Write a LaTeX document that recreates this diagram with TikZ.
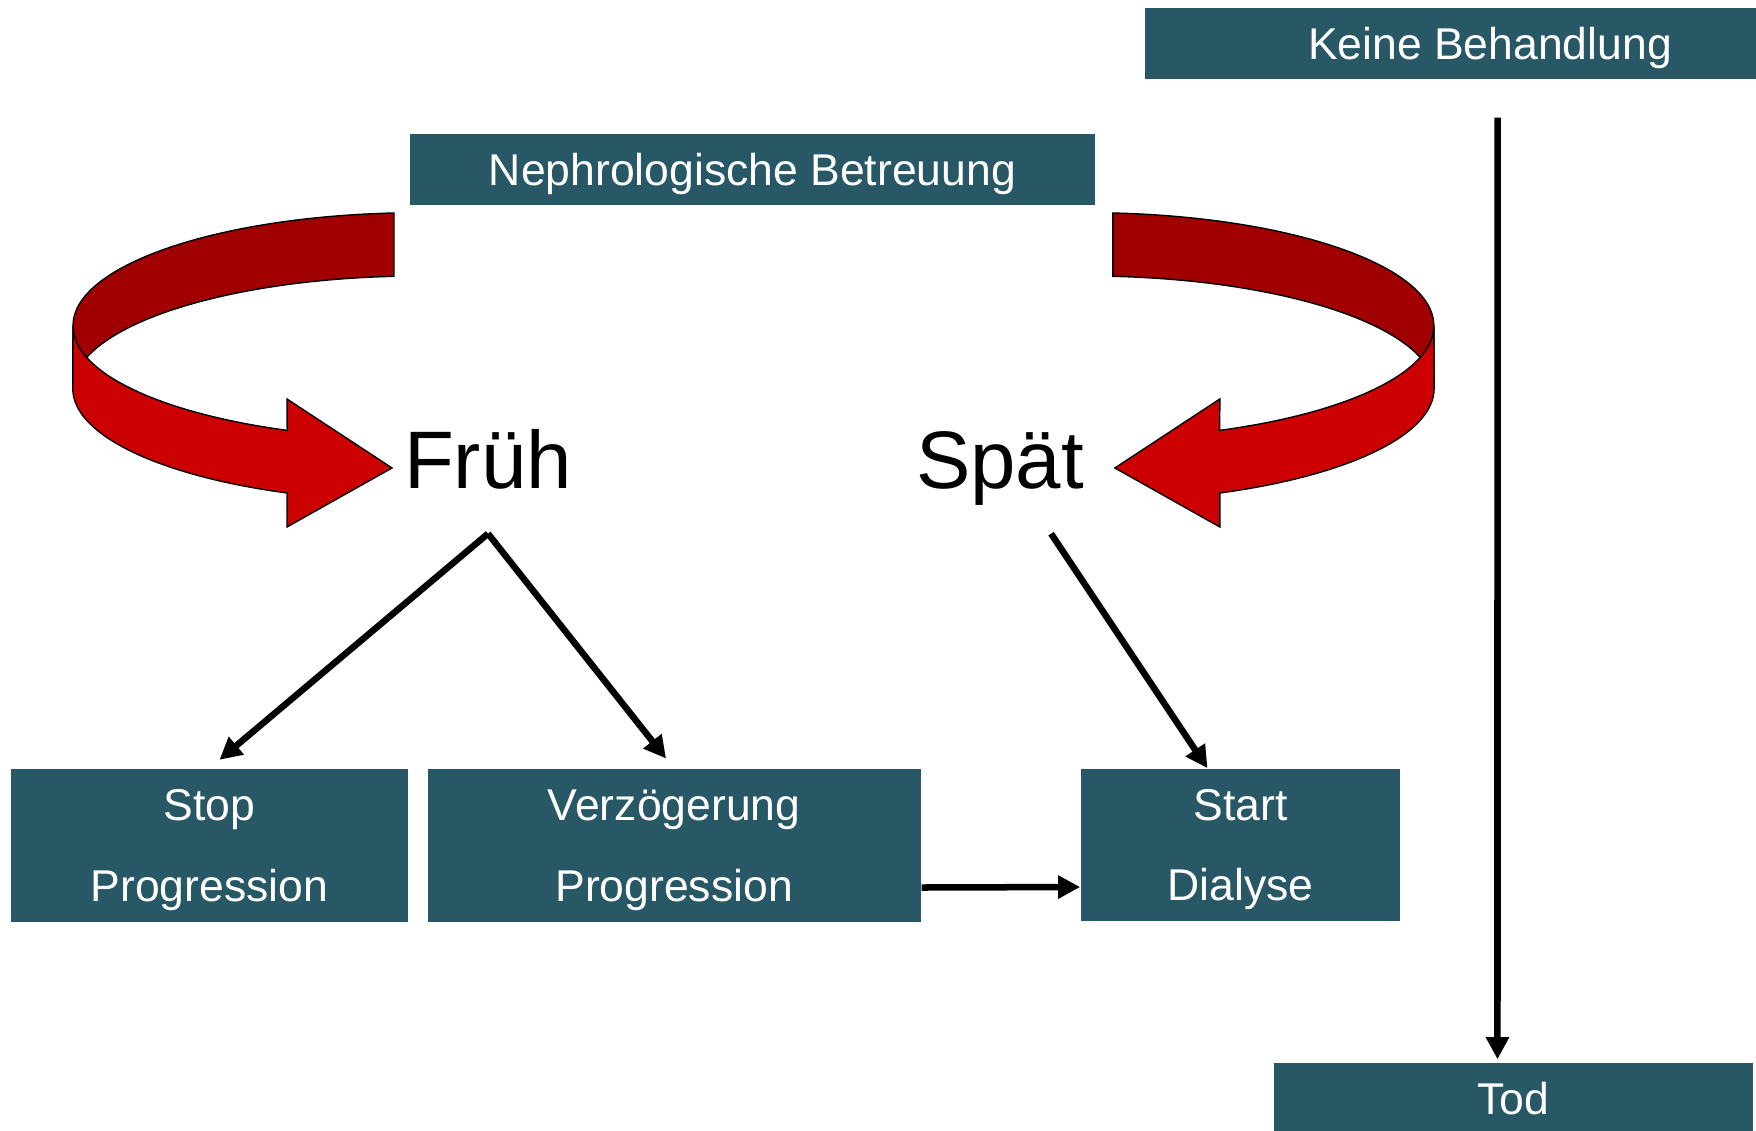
\documentclass[tikz,border=0pt]{standalone}
\usepackage{fontspec}
\setmainfont{Liberation Sans}
\usetikzlibrary{arrows.meta,positioning}
\definecolor{NephTeal}{HTML}{285866}
\definecolor{NephRed}{HTML}{CC0000}
\definecolor{NephDarkRed}{HTML}{A00000}
\newcommand{\boxfont}{\fontsize{12.66}{23}\selectfont}
\newcommand{\phasefont}{\fontsize{23.2}{26}\selectfont}

\begin{document}
\begin{tikzpicture}[x=0.01cm,y=-0.01cm,
    box/.style={fill=NephTeal,text=white,inner sep=0pt,text depth=0pt,align=center,font=\boxfont},
    phase/.style={font=\phasefont,inner xsep=0pt,inner ysep=12.5pt,text depth=0pt,anchor=base},
    arr/.style={-{Triangle[length=6.3pt,width=6.3pt]},line width=1.85pt,black},
    backband/.style={fill=NephDarkRed,draw=black,line width=0.4pt},
    frontband/.style={fill=NephRed,draw=black,line width=0.4pt}
  ]
    \useasboundingbox (0,0) rectangle (1756,1131);
    \clip (0,0) rectangle (1756,1131);

    % ribbon arrows, right one mirrored
    \foreach \sx/\mx in {1/0cm,-1/15.06cm}{
      \begin{scope}[xshift=\mx,xscale=\sx]
        \path[backband] (394,213) arc[start angle=265.7,end angle=180,x radius=347,y radius=113]
          -- (73,389) arc[start angle=180,end angle=265.7,x radius=347,y radius=113] -- cycle;
        \path[frontband] (73,326) arc[start angle=180,end angle=112.5,x radius=347,y radius=113]
          -- (287,399) -- (392,468) -- (287,527) -- (287,493)
          arc[start angle=112.5,end angle=180,x radius=347,y radius=113] -- cycle;
      \end{scope}
    }

    \node[box,minimum width=6.9cm,minimum height=0.71cm] (keine) at (1490,43.5) {Keine Behandlung};
    \node[box,minimum width=6.85cm,minimum height=0.71cm] (neph) at (752.5,169.5) {Nephrologische Betreuung};
    \node[phase] (frueh) at (488,489) {Früh};
    \node[phase] (spaet) at (1000,489) {Spät};
    \node[box,minimum width=3.97cm,minimum height=1.53cm] (stop) at (209.5,845.5) {Stop\\Progression};
    \node[box,minimum width=4.93cm,minimum height=1.52cm,right=0.18cm of stop] (verz) {Verzögerung\\Progression};
    \node[box,minimum width=3.19cm,minimum height=1.52cm] (start) at (1240.5,845) {Start\\Dialyse};
    \node[box,minimum width=4.79cm,minimum height=0.71cm] (tod) at (1513.5,1098.5) {Tod};

    \draw[arr,shorten >=0.13cm] (frueh.south) -- (stop.north);
    \draw[arr,shorten >=0.13cm] (frueh.south) -- (verz.north);
    \draw[arr] ([xshift=0.51cm]spaet.south) -- ([xshift=-0.33cm]start.north);
    \draw[arr] ([yshift=-0.42cm]verz.east) -- ([yshift=-0.42cm]start.west);
    \draw[arr,shorten >=0.03cm] ([xshift=0.075cm,yshift=-0.38cm]keine.south) -- ([xshift=-0.16cm]tod.north);
  \end{tikzpicture}
\end{document}
